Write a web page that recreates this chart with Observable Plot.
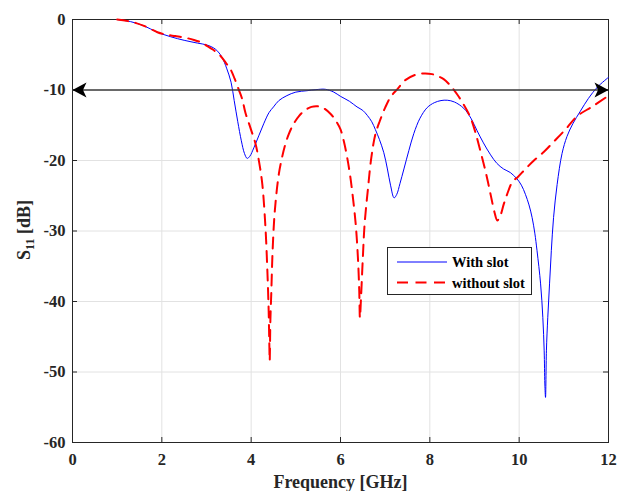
<!DOCTYPE html>
<html>
<head>
<meta charset="utf-8">
<script src="https://cdn.jsdelivr.net/npm/d3@7"></script>
<script src="https://cdn.jsdelivr.net/npm/@observablehq/plot@0.6"></script>
<style>
  html, body { margin: 0; padding: 0; background: #ffffff; }
  #chart { position: relative; width: 617px; height: 491px; }
</style>
</head>
<body>
<div id="chart"></div>
<script>
// ---- data ----
const seriesNames = ["With slot", "without slot"];

const withSlotFreq = [1.0,1.3,1.6,1.9,2.2,2.5,2.8,3.0,3.15,3.25,3.35,3.45,3.55,3.62,3.7,3.78,3.85,3.91,3.97,4.06,4.17,4.28,4.4,4.5,4.62,4.8,5.0,5.25,5.45,5.66,5.85,6.0,6.2,6.37,6.5,6.6,6.7,6.78,6.87,6.97,7.05,7.12,7.2,7.26,7.33,7.42,7.53,7.64,7.78,7.94,8.1,8.25,8.39,8.55,8.76,8.92,9.06,9.2,9.36,9.5,9.65,9.8,9.95,10.05,10.14,10.22,10.29,10.35,10.4,10.48,10.53,10.56,10.575,10.59,10.61,10.64,10.68,10.72,10.77,10.85,10.96,11.07,11.2,11.37,11.55,11.75,12.0];
const withSlotS11 = [0,-0.3,-0.9,-1.8,-2.45,-2.95,-3.35,-3.6,-4.0,-4.5,-5.4,-6.9,-8.9,-11.5,-14.5,-17.2,-19.0,-19.7,-19.4,-18.2,-16.5,-14.8,-13.2,-12.4,-11.5,-10.8,-10.3,-10.1,-9.95,-9.9,-10.3,-10.9,-11.6,-12.4,-12.9,-13.6,-14.5,-15.6,-17.0,-18.9,-21.2,-23.5,-25.3,-24.8,-23.3,-21.2,-18.6,-16.2,-14.0,-12.5,-11.8,-11.5,-11.45,-11.7,-12.6,-14.0,-15.8,-17.5,-19.2,-20.4,-21.2,-21.7,-22.6,-23.5,-24.8,-26.3,-28.1,-30.3,-32.8,-37.5,-42.3,-47.0,-51.7,-53.6,-47.0,-42.3,-37.5,-32.8,-28.1,-23.4,-19.0,-16.6,-14.8,-13.0,-11.2,-9.6,-8.2];

const withoutSlotFreq = [1.0,1.3,1.6,1.9,2.1,2.3,2.5,2.72,2.9,3.0,3.15,3.31,3.45,3.54,3.63,3.72,3.8,3.87,3.98,4.1,4.18,4.25,4.32,4.36,4.39,4.405,4.415,4.43,4.45,4.48,4.53,4.62,4.69,4.76,4.84,4.95,5.07,5.2,5.35,5.47,5.6,5.78,5.9,6.0,6.08,6.15,6.21,6.26,6.34,6.39,6.42,6.435,6.46,6.5,6.54,6.61,6.69,6.78,6.88,7.0,7.12,7.27,7.45,7.65,7.86,8.05,8.2,8.31,8.45,8.61,8.76,8.91,9.02,9.13,9.25,9.36,9.45,9.51,9.58,9.65,9.73,9.85,9.96,10.14,10.33,10.55,10.78,11.05,11.3,11.65,12.0];
const withoutSlotS11 = [0,-0.3,-0.9,-1.8,-2.15,-2.35,-2.55,-2.9,-3.3,-3.7,-4.3,-5.15,-6.3,-7.1,-8.4,-9.9,-11.3,-13.2,-15.3,-17.7,-20.3,-23.4,-29.5,-35.2,-40.9,-45.5,-48.4,-42.7,-38.9,-32.8,-27.1,-21.9,-19.6,-17.8,-16.3,-14.8,-13.7,-12.9,-12.4,-12.3,-12.5,-13.4,-14.4,-15.6,-17.4,-19.6,-21.9,-24.3,-29.0,-33.8,-38.5,-42.3,-39.4,-33.8,-29.0,-24.3,-19.6,-16.3,-14.4,-12.5,-11.0,-9.9,-8.6,-7.9,-7.65,-7.75,-8.1,-8.45,-9.3,-10.6,-12.1,-13.9,-16.0,-18.6,-21.6,-24.8,-27.4,-28.5,-27.8,-26.3,-24.8,-23.0,-22.4,-21.2,-20.0,-18.8,-17.3,-15.5,-13.7,-12.3,-10.8];

const xTicks = [0, 2, 4, 6, 8, 10, 12];
const yTicks = [-60, -50, -40, -30, -20, -10, 0];
const thresholdDb = [-10];
const arrowEnds = [0, 12];
const arrowAngles = [0, 180];

// ---- tables built from arrays ----
const withSlot = withSlotFreq.map((f, i) => ({f, s: withSlotS11[i]}));
const withoutSlot = withoutSlotFreq.map((f, i) => ({f, s: withoutSlotS11[i]}));
const arrows = arrowEnds.map((f, i) => ({f, s: thresholdDb[0], a: arrowAngles[i]}));

// ---- layout ----
const W = 617, H = 491;
const mL = 72, mR = 9, mT = 19, mB = 49;
const innerH = H - mT - mB;
const axisColor = "#262626";
const serif = "'Liberation Serif', 'Times New Roman', Times, serif";

// arrowhead with tip at origin, pointing left
const arrowHead = {
  draw(ctx) {
    ctx.moveTo(0, 0);
    ctx.lineTo(14, -7.5);
    ctx.lineTo(10.5, 0);
    ctx.lineTo(14, 7.5);
    ctx.closePath();
  }
};

const svg = Plot.plot({
  width: W,
  height: H,
  marginLeft: mL,
  marginRight: mR,
  marginTop: mT,
  marginBottom: mB,
  style: {fontFamily: serif, fontWeight: "bold", fontSize: "16px", color: axisColor, background: "#ffffff"},
  x: {domain: [0, 12]},
  y: {domain: [-60, 0]},
  marks: [
    Plot.gridX(xTicks, {stroke: "#e2e2e2", strokeOpacity: 1, strokeWidth: 1}),
    Plot.gridY(yTicks, {stroke: "#e2e2e2", strokeOpacity: 1, strokeWidth: 1}),
    Plot.axisX(xTicks, {tickSize: 0, tickPadding: 11, fontSize: 16.5, fontWeight: "bold", fill: axisColor, tickFormat: d => String(d), label: null}),
    Plot.axisY(yTicks, {tickSize: 0, tickPadding: 7, fontSize: 16.5, fontWeight: "bold", fill: axisColor, tickFormat: d => String(d), label: null}),
    // inward ticks on all four sides
    Plot.tickX(xTicks, {x: d => d, stroke: axisColor, insetTop: innerH - 5}),
    Plot.tickX(xTicks, {x: d => d, stroke: axisColor, insetBottom: innerH - 5}),
    Plot.tickY(yTicks, {y: d => d, stroke: axisColor, insetRight: (W - mL - mR) - 5}),
    Plot.tickY(yTicks, {y: d => d, stroke: axisColor, insetLeft: (W - mL - mR) - 5}),
    Plot.frame({stroke: axisColor, strokeWidth: 1}),
    Plot.line(withSlot, {x: "f", y: "s", stroke: "#0000ff", strokeWidth: 1, curve: "catmull-rom"}),
    Plot.line(withoutSlot, {x: "f", y: "s", stroke: "#ff0000", strokeWidth: 2, strokeDasharray: "11,7.5", curve: "catmull-rom"}),
    Plot.ruleY(thresholdDb, {stroke: "#3c3c3c", strokeWidth: 1.5}),
    Plot.dot(arrows, {x: "f", y: "s", rotate: "a", symbol: arrowHead, fill: "#000000", stroke: "none"}),
    Plot.text(["Frequency [GHz]"], {frameAnchor: "bottom", lineAnchor: "bottom", dy: 45, fontSize: 18, fontWeight: "bold", fill: axisColor, fontFamily: serif})
  ]
});

// y-axis label with subscript
const sel = d3.select(svg);
const yl = sel.append("text")
  .attr("transform", "translate(30,230) rotate(-90)")
  .attr("text-anchor", "middle")
  .attr("font-family", serif)
  .attr("font-weight", "bold")
  .attr("font-size", 18)
  .attr("fill", axisColor);
yl.append("tspan").text("S");
yl.append("tspan").attr("font-size", 12).attr("dy", 4).text("11");
yl.append("tspan").attr("dy", -4).text(" [dB]");

// legend box
const lg = sel.append("g").attr("font-family", serif).attr("font-weight", "bold").attr("font-size", 14.5).attr("fill", "#000").attr("text-anchor", "start");
lg.append("rect").attr("x", 387.5).attr("y", 247.5).attr("width", 144).attr("height", 47)
  .attr("fill", "#ffffff").attr("stroke", axisColor).attr("stroke-width", 1);
const legendStyles = [
  {stroke: "#0000ff", width: 1, dash: null},
  {stroke: "#ff0000", width: 2, dash: "11,7.5"}
];
seriesNames.forEach((name, i) => {
  const yy = 262 + i * 20.5;
  const st = legendStyles[i];
  const ln = lg.append("line").attr("x1", 397).attr("x2", 447).attr("y1", yy).attr("y2", yy)
    .attr("stroke", st.stroke).attr("stroke-width", st.width);
  if (st.dash) ln.attr("stroke-dasharray", st.dash);
  lg.append("text").attr("x", 452).attr("y", yy + 5).attr("text-anchor", "start").text(name);
});

document.getElementById("chart").appendChild(svg);
</script>
</body>
</html>
